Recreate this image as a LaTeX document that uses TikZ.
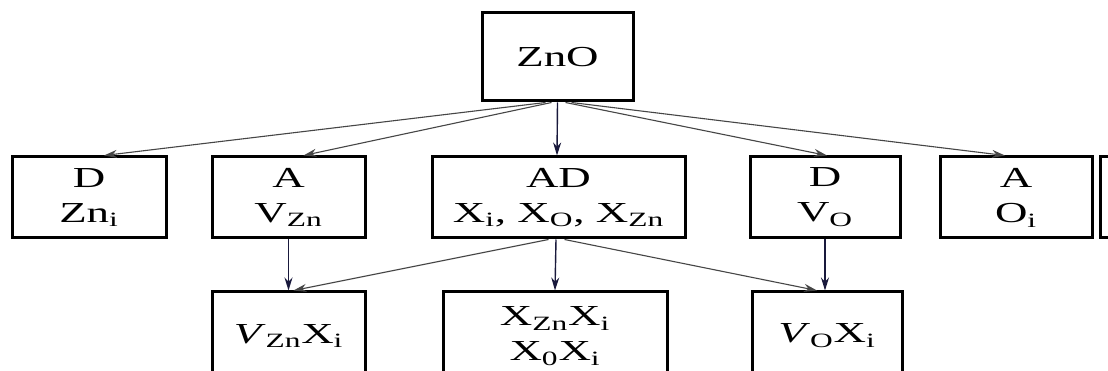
\documentclass[tikz,border=0pt]{standalone}
\usepackage{fontspec}
\usepackage{graphicx}
\setmainfont{Liberation Serif}
\usetikzlibrary{arrows.meta,calc}
\definecolor{vline}{RGB}{25,25,60}
\definecolor{dline}{RGB}{70,70,70}
\newcommand{\sx}[1]{\scalebox{1.55}[1]{#1}}
\tikzset{
  box/.style={draw=black,line width=3pt,minimum height=81pt,inner sep=0pt,align=center,
    font=\fontsize{29}{35}\selectfont},
  bbox/.style={box,minimum height=88pt},
  darr/.style={draw=dline,line width=1.1pt,-{Stealth[length=13pt,width=8pt]}},
  varr/.style={draw=vline,line width=1.4pt,-{Stealth[length=13pt,width=8pt]}}
}
\begin{document}
\begin{tikzpicture}[x=1pt,y=-1pt]
\clip (0,0) rectangle (1108,371);
\fill[white] (0,0) rectangle (1108,371);
% top
\node[bbox,minimum width=151pt] (zno) at (557.5,57) {\sx{ZnO}};
% middle row
\node[box,minimum width=154pt] (zni) at (89,197.5) {\sx{D}\\\sx{Zn\textsubscript{i}}};
\node[box,minimum width=153pt] (vzn) at (288.5,197.5) {\sx{A}\\\sx{V\textsubscript{Zn}}};
\node[box,minimum width=253pt] (ad) at (558.5,197.5) {\sx{AD}\\\sx{X\textsubscript{i}, X\textsubscript{O}, X\textsubscript{Zn}}};
\node[box,minimum width=150pt] (vo) at (825,197.5) {\sx{D}\\\sx{V\textsubscript{O}}};
\node[box,minimum width=152pt] (oi) at (1016,197.5) {\sx{A}\\\sx{O\textsubscript{i}}};
\node[box,minimum width=152pt] (extra) at (1176,197.5) {};
% bottom row
\node[bbox,minimum width=153pt] (vznxi) at (288.5,336) {\sx{\textit{V}\textsubscript{Zn}X\textsubscript{i}}};
\node[bbox,minimum width=224pt] (xx) at (555,336) {\sx{X\textsubscript{Zn}X\textsubscript{i}}\\\sx{X\textsubscript{0}X\textsubscript{i}}};
\node[bbox,minimum width=150pt] (voxi) at (827,336) {\sx{\textit{V}\textsubscript{O}X\textsubscript{i}}};
% arrows from ZnO
\draw[darr] ($(zno.south)+(-12,0)$) -- ($(zni.north)+(15,0)$);
\draw[darr] ($(zno.south)+(-6,0)$) -- ($(vzn.north)+(15,0)$);
\draw[varr] (zno.south) -- ($(ad.north)+(-1.5,0)$);
\draw[darr] ($(zno.south)+(8,0)$) -- ($(vo.north)+(2,0)$);
\draw[darr] ($(zno.south)+(14,0)$) -- ($(oi.north)+(-11,0)$);
% arrows to bottom row
\draw[varr] (vzn.south) -- (vznxi.north);
\draw[varr] ($(ad.south)+(-2.5,0)$) -- (xx.north);
\draw[varr] (vo.south) -- ($(voxi.north)+(-2,0)$);
\draw[darr] ($(ad.south)+(-10,0)$) -- ($(vznxi.north)+(5,0)$);
\draw[darr] ($(ad.south)+(6,0)$) -- ($(voxi.north)+(-10,0)$);
\end{tikzpicture}
\end{document}
